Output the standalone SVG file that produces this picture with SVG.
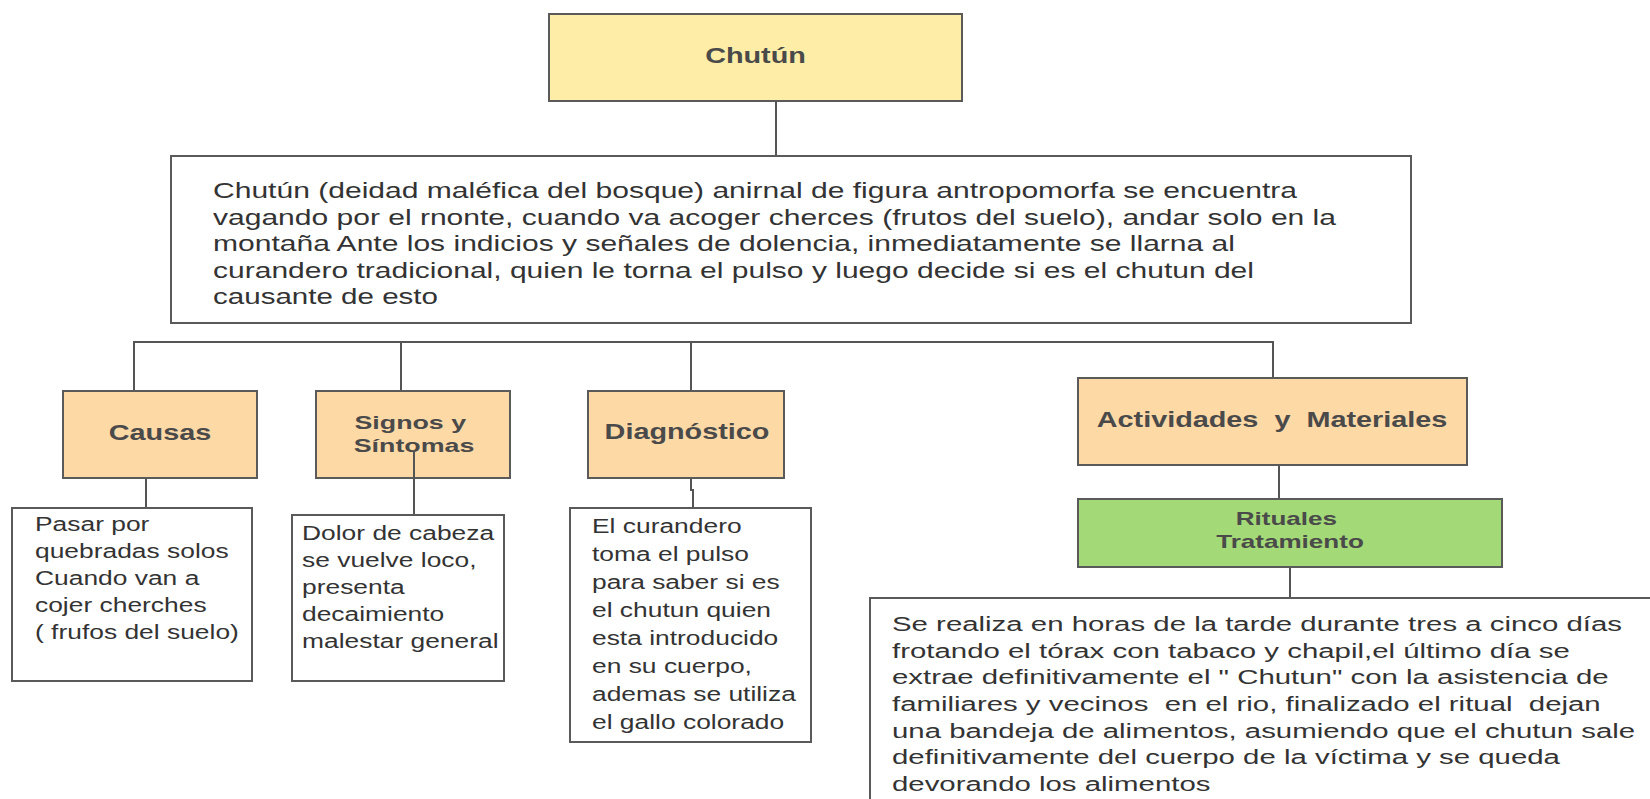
<svg xmlns="http://www.w3.org/2000/svg" width="1650" height="799" viewBox="0 0 1650 799">
<style>
  .box { stroke: #5a5a5a; stroke-width: 2; }
  .yellow { fill: #fdeda6; }
  .orange { fill: #fdd9a6; }
  .green { fill: #a3d977; }
  .white { fill: #ffffff; }
  .conn { stroke: #555555; stroke-width: 2; fill: none; }
  .title { font-family: "Liberation Sans", Arial, sans-serif; font-weight: bold; fill: #4a4a4a; text-anchor: middle; }
  .body { font-family: "Liberation Sans", Arial, sans-serif; fill: #333333; }
</style>
<rect width="1650" height="799" fill="#ffffff"/>
<g id="connectors">
  <path class="conn" d="M776 101 V156"/>
  <path class="conn" d="M134 391 V342 H1273 V378"/>
  <path class="conn" d="M401 342 V391"/>
  <path class="conn" d="M691 342 V391"/>
  <path class="conn" d="M146 478 V508"/>
  <path class="conn" d="M691 478 V490 H693 V508"/>
  <path class="conn" d="M1279 465 V499"/>
  <path class="conn" d="M1290 567 V598"/>
</g>
<g id="chutun">
  <rect class="box yellow" x="549" y="14" width="413" height="87"/>
  <text class="title" font-size="21.5" transform="translate(755.5,63) scale(1.34,1)">Chutún</text>
</g>
<g id="descripcion">
  <rect class="box white" x="171" y="156" width="1240" height="167"/>
  <g class="body" font-size="21.5">
    <text x="213" y="198" textLength="1084" lengthAdjust="spacingAndGlyphs">Chutún (deidad maléfica del bosque) anirnal de figura antropomorfa se encuentra</text>
    <text x="213" y="224.5" textLength="1123" lengthAdjust="spacingAndGlyphs">vagando por el rnonte, cuando va acoger cherces (frutos del suelo), andar solo en la</text>
    <text x="213" y="251" textLength="1022" lengthAdjust="spacingAndGlyphs">montaña Ante los indicios y señales de dolencia, inmediatamente se llarna al</text>
    <text x="213" y="277.5" textLength="1041" lengthAdjust="spacingAndGlyphs">curandero tradicional, quien le torna el pulso y luego decide si es el chutun del</text>
    <text x="213" y="304" textLength="225" lengthAdjust="spacingAndGlyphs">causante de esto</text>
  </g>
</g>
<g id="causas">
  <rect class="box orange" x="63" y="391" width="194" height="87"/>
  <text class="title" font-size="21.5" transform="translate(160,440) scale(1.34,1)">Causas</text>
</g>
<g id="signos">
  <rect class="box orange" x="316" y="391" width="194" height="87"/>
  <text class="title" font-size="19" transform="translate(414,0) scale(1.41,1)">
    <tspan x="0" y="429">Signos y</tspan>
    <tspan x="0" y="452">Síntomas</tspan>
  </text>
  <path class="conn" d="M414 450 V515"/>
</g>
<g id="diagnostico">
  <rect class="box orange" x="588" y="391" width="196" height="87"/>
  <text class="title" font-size="21.5" transform="translate(687,439) scale(1.34,1)">Diagnóstico</text>
</g>
<g id="actividades">
  <rect class="box orange" x="1078" y="378" width="389" height="87"/>
  <text class="title" font-size="21.5" transform="translate(1272,427) scale(1.34,1)" xml:space="preserve">Actividades  y  Materiales</text>
</g>
<g id="rituales">
  <rect class="box green" x="1078" y="499" width="424" height="68"/>
  <text class="title" font-size="17.5" transform="translate(1290,0) scale(1.49,1)">
    <tspan x="0" y="525">Rituales</tspan>
    <tspan x="0" y="548">Tratamiento</tspan>
  </text>
</g>
<g id="causas-texto">
  <rect class="box white" x="12" y="508" width="240" height="173"/>
  <text class="body" font-size="20" transform="translate(35,0) scale(1.32,1)">
    <tspan x="0" y="531">Pasar por</tspan>
    <tspan x="0" y="558">quebradas solos</tspan>
    <tspan x="0" y="585">Cuando van a</tspan>
    <tspan x="0" y="612">cojer cherches</tspan>
    <tspan x="0" y="639">( frufos del suelo)</tspan>
  </text>
</g>
<g id="signos-texto">
  <rect class="box white" x="292" y="515" width="212" height="166"/>
  <text class="body" font-size="20" transform="translate(302,0) scale(1.32,1)">
    <tspan x="0" y="540">Dolor de cabeza</tspan>
    <tspan x="0" y="567">se vuelve loco,</tspan>
    <tspan x="0" y="594">presenta</tspan>
    <tspan x="0" y="621">decaimiento</tspan>
    <tspan x="0" y="648">malestar general</tspan>
  </text>
</g>
<g id="diagnostico-texto">
  <rect class="box white" x="570" y="508" width="241" height="234"/>
  <text class="body" font-size="20" transform="translate(592,0) scale(1.32,1)">
    <tspan x="0" y="533">El curandero</tspan>
    <tspan x="0" y="561">toma el pulso</tspan>
    <tspan x="0" y="589">para saber si es</tspan>
    <tspan x="0" y="617">el chutun quien</tspan>
    <tspan x="0" y="645">esta introducido</tspan>
    <tspan x="0" y="673">en su cuerpo,</tspan>
    <tspan x="0" y="701">ademas se utiliza</tspan>
    <tspan x="0" y="729">el gallo colorado</tspan>
  </text>
</g>
<g id="tratamiento-texto">
  <rect class="box white" x="870" y="598" width="800" height="230"/>
  <text class="body" font-size="20" transform="translate(892,0) scale(1.47,1)" xml:space="preserve"><tspan x="0" y="631">Se realiza en horas de la tarde durante tres a cinco días</tspan><tspan x="0" y="658">frotando el tórax con tabaco y chapil,el último día se</tspan><tspan x="0" y="684">extrae definitivamente el " Chutun" con la asistencia de</tspan><tspan x="0" y="711">familiares y vecinos  en el rio, finalizado el ritual  dejan</tspan><tspan x="0" y="738">una bandeja de alimentos, asumiendo que el chutun sale</tspan><tspan x="0" y="764">definitivamente del cuerpo de la víctima y se queda</tspan><tspan x="0" y="791">devorando los alimentos</tspan></text>
</g>
</svg>
